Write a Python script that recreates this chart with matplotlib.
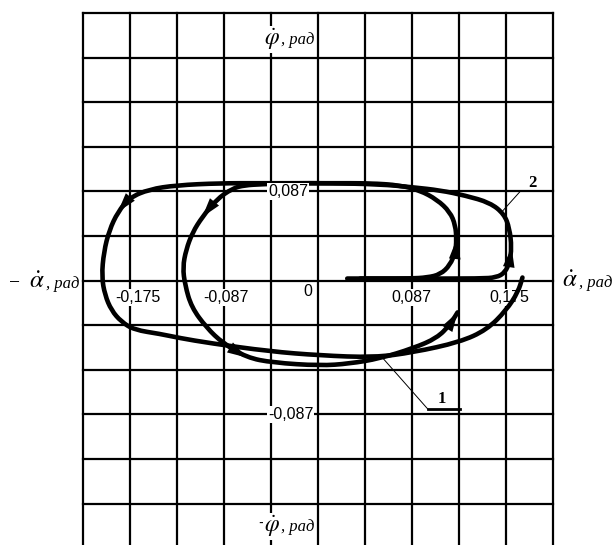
import matplotlib.pyplot as plt
from matplotlib.path import Path
from matplotlib.patches import PathPatch

plt.rcParams['mathtext.fontset'] = 'stix'

# phase trajectories: alpha-dot (x, rad) vs phi-dot (y, rad)
curve1_x = [0.027, 0.057, 0.085, 0.101, 0.113, 0.122, 0.127, 0.128, 0.127, 0.122,
            0.110, 0.094, 0.076, 0.048, 0.011, -0.026, -0.052, -0.068, -0.079, -0.094,
            -0.107, -0.116, -0.122, -0.125, -0.123, -0.117, -0.103, -0.088, -0.066, -0.042,
            0.002, 0.029, 0.057, 0.088, 0.110, 0.122, 0.129]
curve1_y = [0.002, 0.002, 0.002, 0.003, 0.006, 0.015, 0.028, 0.040, 0.054, 0.067,
            0.079, 0.088, 0.093, 0.095, 0.095, 0.095, 0.094, 0.093, 0.090, 0.079,
            0.062, 0.047, 0.030, 0.013, -0.004, -0.026, -0.046, -0.061, -0.075, -0.080,
            -0.083, -0.081, -0.076, -0.066, -0.056, -0.043, -0.031]

curve2_x = [0.039, 0.094, 0.150, 0.165, 0.173, 0.177, 0.179, 0.177, 0.172, 0.159,
            0.136, 0.113, 0.088, 0.057, 0.011, -0.026, -0.052, -0.091, -0.131, -0.156,
            -0.174, -0.185, -0.193, -0.198, -0.200, -0.197, -0.191, -0.182, -0.170, -0.146,
            -0.128, -0.100, -0.045, 0.002, 0.052, 0.088, 0.131, 0.156, 0.174, 0.185, 0.189]
curve2_y = [0.002, 0.002, 0.002, 0.003, 0.008, 0.018, 0.032, 0.051, 0.065, 0.076,
            0.083, 0.088, 0.091, 0.094, 0.095, 0.095, 0.095, 0.095, 0.093, 0.089,
            0.081, 0.067, 0.049, 0.028, 0.004, -0.014, -0.029, -0.040, -0.048, -0.052,
            -0.056, -0.061, -0.069, -0.073, -0.075, -0.070, -0.060, -0.048, -0.029, -0.011, 0.003]

# where the direction arrows sit on each trajectory (point indices)
curve1_arrows = [7, 20, 28, 36]
curve2_arrows = [6, 21]

x_ticks = [-0.175, -0.087, 0.0, 0.087, 0.175]
x_tick_labels = ['-0,175', '-0,087', '0', '0,087', '0,175']
y_ticks = [0.087, -0.1305]
y_tick_labels = ['0,087', '-0,087']

cell = 0.0435          # grid step, rad
W, H = 613, 545

fig = plt.figure(figsize=(W / 100, H / 100), dpi=100)
ax = fig.add_axes([0, 0, 1, 1])
ax.set_xlim(-0.294, 0.2727)
ax.set_ylim(-0.2579, 0.2737)
ax.axis('off')

# grid
for k in range(-5, 6):
    ax.plot([k * cell, k * cell], [6 * cell, -7 * cell], color='black', lw=1.6, zorder=1)
for j in range(-6, 7):
    ax.plot([-5 * cell, 5 * cell], [j * cell, j * cell], color='black', lw=1.6, zorder=1)

box = dict(facecolor='white', edgecolor='none', pad=0.5)

# x tick labels (sit under the horizontal axis)
x_offsets = [(9, 0), (2, 0), (-10, 6), (-1, 0), (2, 0)]
for t, lab, off in zip(x_ticks, x_tick_labels, x_offsets):
    ax.annotate(lab, (t, 0), xytext=(off[0], -17 + off[1]), textcoords='offset pixels',
                ha='center', va='center', fontsize=11.5, family='Liberation Sans',
                bbox=box, zorder=2)

# y tick labels (sit on the column left of centre)
for t, lab in zip(y_ticks, y_tick_labels):
    ax.annotate(lab, (-cell, t), xytext=(-3, 0), textcoords='offset pixels',
                ha='left', va='center', fontsize=11.5, family='Liberation Sans',
                bbox=box, zorder=5)


def smooth_path(xs, ys):
    # quadratic bezier through the midpoints, read points act as control points
    pts = list(zip(xs, ys))
    verts = [pts[0]]
    codes = [Path.MOVETO]
    for i in range(1, len(pts) - 1):
        mid = ((pts[i][0] + pts[i + 1][0]) / 2, (pts[i][1] + pts[i + 1][1]) / 2)
        verts += [pts[i], mid]
        codes += [Path.CURVE3, Path.CURVE3]
    verts.append(pts[-1])
    codes.append(Path.LINETO)
    return Path(verts, codes)


# trajectories
for xs, ys, arrows in [(curve1_x, curve1_y, curve1_arrows),
                       (curve2_x, curve2_y, curve2_arrows)]:
    ax.add_patch(PathPatch(smooth_path(xs, ys), facecolor='none', edgecolor='black',
                           lw=3.3, joinstyle='round', capstyle='round', zorder=3))
    for i in arrows:
        ax.annotate('', xy=(xs[i], ys[i]), xytext=(xs[i - 1], ys[i - 1]),
                    arrowprops=dict(arrowstyle='-|>,head_length=1.0,head_width=0.3',
                                    color='black', lw=0, shrinkA=0, shrinkB=0,
                                    mutation_scale=14),
                    zorder=4)

# curve numbers with leader lines
ax.plot([0.1698, 0.1864], [0.0669, 0.0864], color='black', lw=0.7, zorder=3)
ax.text(0.1984, 0.0952, '2', fontsize=12, fontweight='bold', family='Liberation Serif',
        ha='center', va='center', zorder=5)
ax.plot([0.0598, 0.1014], [-0.0755, -0.1252], color='black', lw=0.7, zorder=3)
ax.plot([0.1014, 0.131], [-0.1252, -0.1252], color='black', lw=2.0, zorder=3)
ax.text(0.1143, -0.1154, '1', fontsize=12, fontweight='bold', family='Liberation Serif',
        ha='center', va='center', zorder=5)


def ftext(px, py, s, **kw):
    fig.text(px / W, 1 - py / H, s, **kw)


unit = dict(fontsize=12, family='Liberation Serif', style='italic', va='baseline')

# axis names
ftext(272, 45, r'$\dot{\varphi}$', fontsize=17, ha='center', va='baseline', bbox=box, zorder=5)
ftext(281, 44, ', рад', ha='left', bbox=box, zorder=5, **unit)

ftext(261, 523, '-', fontsize=12, family='Liberation Sans', ha='center', va='center',
      bbox=box, zorder=5)
ftext(272, 532, r'$\dot{\varphi}$', fontsize=17, ha='center', va='baseline', bbox=box, zorder=5)
ftext(281, 531, ', рад', ha='left', bbox=box, zorder=5, **unit)

ftext(14, 284, '−', fontsize=14, family='Liberation Serif', ha='center', va='center')
ftext(37, 288, r'$\dot{\alpha}$', fontsize=18, ha='center', va='baseline')
ftext(46, 288, ', рад', ha='left', **unit)

ftext(570, 287, r'$\dot{\alpha}$', fontsize=18, ha='center', va='baseline')
ftext(579, 287, ', рад', ha='left', **unit)

fig.savefig('out.png', dpi=100)
